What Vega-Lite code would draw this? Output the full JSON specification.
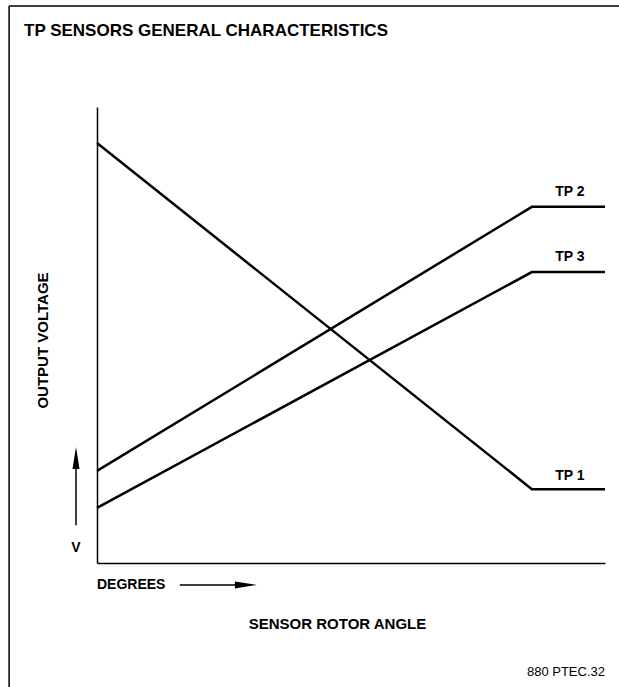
{
  "$schema": "https://vega.github.io/schema/vega-lite/v6.json",
  "width": 508,
  "height": 456,
  "autosize": {"type": "none"},
  "padding": {"left": 97, "top": 107, "right": 14, "bottom": 124},
  "background": "white",
  "config": {"view": {"stroke": null}, "font": "Liberation Sans"},
  "data": {"values": [{"note": "annotation"}]},
  "datasets": {
    "lines": [
      {"sensor": "TP 1", "angle": 0, "voltage": 92.1},
      {"sensor": "TP 1", "angle": 85.6, "voltage": 16.2},
      {"sensor": "TP 1", "angle": 100, "voltage": 16.2},
      {"sensor": "TP 2", "angle": 0, "voltage": 20.2},
      {"sensor": "TP 2", "angle": 85.6, "voltage": 78.1},
      {"sensor": "TP 2", "angle": 100, "voltage": 78.1},
      {"sensor": "TP 3", "angle": 0, "voltage": 12.1},
      {"sensor": "TP 3", "angle": 85.6, "voltage": 63.8},
      {"sensor": "TP 3", "angle": 100, "voltage": 63.8}
    ],
    "labels": [
      {"sensor": "TP 1", "angle": 93.1, "voltage": 19.1},
      {"sensor": "TP 2", "angle": 93.1, "voltage": 81.4},
      {"sensor": "TP 3", "angle": 93.1, "voltage": 67.1}
    ]
  },
  "layer": [
    {
      "data": {"name": "lines"},
      "mark": {"type": "line", "color": "black", "strokeWidth": 2.5, "strokeJoin": "miter"},
      "encoding": {
        "x": {
          "field": "angle", "type": "quantitative",
          "scale": {"domain": [0, 100], "nice": false, "zero": false},
          "axis": {"title": "SENSOR ROTOR ANGLE", "labels": false, "ticks": false, "grid": false,
            "domainColor": "black", "domainWidth": 1.5, "titleFontSize": 15, "titleFont": "Liberation Sans",
            "titleFontWeight": "bold", "titleColor": "black", "titleX": 240, "titleY": 60,
            "titleBaseline": "middle", "titleAlign": "center"}
        },
        "y": {
          "field": "voltage", "type": "quantitative",
          "scale": {"domain": [0, 100], "nice": false, "zero": false},
          "axis": {"title": "OUTPUT VOLTAGE", "labels": false, "ticks": false, "grid": false,
            "domainColor": "black", "domainWidth": 1.5, "titleFontSize": 15, "titleFont": "Liberation Sans",
            "titleFontWeight": "bold", "titleColor": "black", "titleX": -55, "titleY": 233, "titleAngle": 270,
            "titleBaseline": "middle", "titleAlign": "center"}
        },
        "detail": {"field": "sensor"}
      }
    },
    {
      "data": {"name": "labels"},
      "mark": {"type": "text", "font": "Liberation Sans", "fontWeight": "bold", "fontSize": 14, "color": "black", "align": "center", "baseline": "middle"},
      "encoding": {
        "x": {"field": "angle", "type": "quantitative"},
        "y": {"field": "voltage", "type": "quantitative"},
        "text": {"field": "sensor"}
      }
    },
    {
      "mark": {"type": "text", "font": "Liberation Sans", "fontWeight": "bold", "fontSize": 17, "color": "black", "align": "left", "baseline": "middle"},
      "encoding": {
        "x": {"datum": -14.37, "type": "quantitative"},
        "y": {"datum": 116.6, "type": "quantitative"},
        "text": {"value": "TP SENSORS GENERAL CHARACTERISTICS"}
      }
    },
    {
      "mark": {"type": "text", "font": "Liberation Sans", "fontWeight": "bold", "fontSize": 14, "color": "black", "align": "left", "baseline": "middle"},
      "encoding": {
        "x": {"datum": 0, "type": "quantitative"},
        "y": {"datum": -4.82, "type": "quantitative"},
        "text": {"value": "DEGREES"}
      }
    },
    {
      "mark": {"type": "text", "font": "Liberation Sans", "fontWeight": "bold", "fontSize": 14, "color": "black", "align": "center", "baseline": "middle"},
      "encoding": {
        "x": {"datum": -4.13, "type": "quantitative"},
        "y": {"datum": 3.3, "type": "quantitative"},
        "text": {"value": "V"}
      }
    },
    {
      "mark": {"type": "text", "font": "Liberation Sans", "fontSize": 13, "color": "black", "align": "right", "baseline": "middle"},
      "encoding": {
        "x": {"datum": 100, "type": "quantitative"},
        "y": {"datum": -23.9, "type": "quantitative"},
        "text": {"value": "880 PTEC.32"}
      }
    },
    {
      "mark": {"type": "rule", "color": "black", "strokeWidth": 1.5},
      "encoding": {
        "x": {"datum": -4.13, "type": "quantitative"},
        "y": {"datum": 8.3, "type": "quantitative"},
        "y2": {"datum": 23.0}
      }
    },
    {
      "mark": {"type": "point", "filled": true, "color": "black", "opacity": 1, "size": 484, "shape": "M0,-1L0.32,1L-0.32,1Z"},
      "encoding": {
        "x": {"datum": -4.13, "type": "quantitative"},
        "y": {"datum": 23.0, "type": "quantitative"}
      }
    },
    {
      "mark": {"type": "rule", "color": "black", "strokeWidth": 1.5},
      "encoding": {
        "x": {"datum": 16.3, "type": "quantitative"},
        "x2": {"datum": 29.3},
        "y": {"datum": -4.82, "type": "quantitative"}
      }
    },
    {
      "mark": {"type": "point", "filled": true, "color": "black", "opacity": 1, "size": 484, "shape": "M1,0L-1,0.32L-1,-0.32Z"},
      "encoding": {
        "x": {"datum": 29.3, "type": "quantitative"},
        "y": {"datum": -4.82, "type": "quantitative"}
      }
    },
    {
      "mark": {"type": "rule", "color": "black", "strokeWidth": 1.5},
      "encoding": {
        "x": {"datum": -17.3, "type": "quantitative"},
        "x2": {"datum": 105},
        "y": {"datum": 122.15, "type": "quantitative"}
      }
    },
    {
      "mark": {"type": "rule", "color": "black", "strokeWidth": 1.5},
      "encoding": {
        "x": {"datum": -17.3, "type": "quantitative"},
        "y": {"datum": 122.15, "type": "quantitative"},
        "y2": {"datum": -30}
      }
    }
  ]
}
